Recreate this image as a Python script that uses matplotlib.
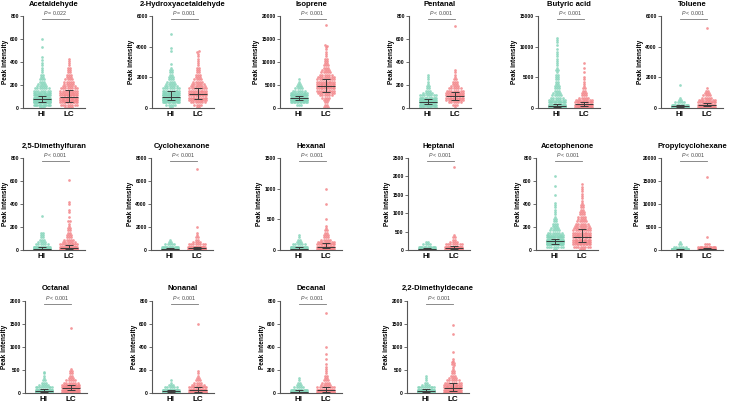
import numpy as np
import matplotlib.pyplot as plt

plt.rcParams['font.family'] = ['Liberation Sans', 'DejaVu Sans']
plt.rcParams['mathtext.fontset'] = 'custom'
plt.rcParams['mathtext.it'] = 'Liberation Sans:italic'
plt.rcParams['mathtext.rm'] = 'Liberation Sans'

# ---- data (values in peak intensity) ----
titles = ["Acetaldehyde", "2-Hydroxyacetaldehyde", "Isoprene", "Pentanal", "Butyric acid", "Toluene",
          "2,5-Dimethylfuran", "Cyclohexanone", "Hexanal", "Heptanal", "Acetophenone", "Propylcyclohexane",
          "Octanal", "Nonanal", "Decanal", "2,2-Dimethyldecane"]
ymax = [800, 6000, 20000, 800, 15000, 6000, 800, 8000, 1500, 2500, 800, 20000, 2000, 800, 800, 2000]
ystep = [200, 2000, 5000, 200, 5000, 2000, 200, 2000, 500, 500, 200, 5000, 500, 200, 200, 500]
pvals = ["= 0.022", "= 0.001"] + ["< 0.001"] * 14
groups = ["HI", "LC"]

# point counts per level (level k = (k + 0.5) * ymax / 40), plus single high values
hi_counts = [
    [3, 14, 26, 30, 22, 16, 11, 8, 7, 5, 4, 3, 3, 2, 2, 1, 1, 1, 1, 1],
    [2, 5, 14, 24, 26, 20, 14, 10, 8, 6, 5, 4, 3, 3, 2, 2, 2, 1],
    [0, 3, 12, 28, 30, 18, 10, 6, 4, 3, 2, 1, 1],
    [8, 22, 28, 24, 14, 8, 5, 3, 2, 2, 1, 1, 1, 1, 1],
    [30, 26, 14, 8, 6, 5, 4, 3, 3, 3, 2, 2, 2, 2, 2, 1, 2, 1, 1, 1, 1, 1, 1, 1, 1, 1, 0, 1, 1, 1, 1],
    [40, 14, 5, 2, 1],
    [60, 18, 6, 4, 3, 2, 2, 2],
    [60, 15, 5, 2, 1],
    [55, 18, 6, 3, 2, 1, 1],
    [60, 14, 4, 2],
    [2, 8, 22, 30, 26, 16, 10, 7, 5, 4, 3, 3, 2, 2, 1, 1, 1, 1, 1, 1, 1],
    [70, 6, 2, 1],
    [35, 25, 10, 5, 3, 2, 1, 1, 1],
    [50, 20, 6, 3, 1, 1],
    [55, 15, 5, 3, 2, 1, 1],
    [35, 28, 10, 4, 2, 1, 1, 1],
]
lc_counts = [
    [4, 8, 12, 14, 14, 12, 10, 9, 8, 6, 5, 5, 4, 3, 3, 2, 2, 2, 1, 1, 1, 1],
    [2, 4, 7, 10, 11, 12, 11, 10, 9, 7, 6, 5, 4, 3, 3, 2, 2, 2, 1, 1, 1, 1, 1, 1, 1],
    [3, 2, 2, 3, 4, 6, 8, 10, 11, 12, 11, 10, 9, 8, 6, 5, 4, 3, 3, 2, 2, 2, 1, 1, 1, 1, 1, 1],
    [1, 3, 6, 9, 12, 12, 10, 8, 6, 4, 3, 3, 2, 1, 1, 1, 1],
    [14, 22, 14, 8, 5, 3, 3, 2, 2, 1, 1, 1, 1, 1, 0, 1, 0, 1, 0, 1],
    [20, 18, 12, 8, 5, 4, 3, 2, 1],
    [40, 20, 10, 6, 5, 3, 3, 2, 2, 2, 1, 1, 1],
    [45, 20, 8, 4, 2, 2, 1, 1],
    [25, 20, 12, 8, 5, 3, 3, 2, 2, 1, 1],
    [40, 22, 8, 4, 2, 2, 1],
    [3, 8, 12, 14, 14, 13, 11, 10, 9, 8, 7, 6, 5, 4, 4, 3, 3, 2, 2, 2, 1, 1, 1, 1, 1, 1, 1, 1, 1],
    [55, 14, 3],
    [15, 22, 18, 12, 7, 5, 3, 2, 2, 2, 1],
    [30, 22, 12, 6, 4, 3, 2, 1, 1, 1],
    [38, 18, 9, 5, 4, 3, 2, 2, 1, 1, 1, 1, 1],
    [18, 20, 14, 10, 8, 6, 4, 3, 2, 2, 1, 1, 1, 1],
]
hi_extra = [[420, 440, 530, 600], [2900, 3700, 3900, 4800], [], [], [], [1500], [300], [], [], [], [480, 560, 640],
            [], [460], [], [], []]
lc_extra = [[], [3700], [13500, 18000], [710], [], [5200], [250, 290, 330, 350, 400, 420, 610], [2000, 7000],
            [500, 750, 990], [2250], [], [2800, 15800], [1420], [600], [300, 340, 400, 700],
            [600, 650, 700, 750, 900, 1280, 1480]]
# (Q1, median, Q3)
hi_stats = [(50, 76, 104), (540, 690, 1125), (1650, 2080, 2670), (35, 55, 80), (150, 350, 700), (50, 100, 180),
            (5, 10, 25), (40, 80, 150), (8, 20, 45), (10, 25, 50), (55, 75, 100), (50, 100, 200),
            (25, 50, 90), (5, 15, 25), (3, 10, 25), (25, 50, 80)]
lc_stats = [(55, 98, 157), (585, 910, 1300), (3380, 4830, 6350), (70, 104, 135), (350, 600, 1000), (100, 200, 350),
            (8, 20, 45), (70, 160, 300), (25, 55, 110), (25, 60, 110), (70, 110, 180), (100, 220, 450),
            (60, 110, 180), (12, 30, 55), (8, 22, 50), (50, 110, 210)]

colors = ["#86d5bb", "#f3868a"]

# ---- layout (pixels) ----
W, H = 729, 403
row_top = [16, 158, 301]
col_x = [[23, 152, 280, 409, 538, 661], [23, 151, 280, 408, 536, 661], [25, 152, 280, 407]]
AW, AH = 62, 92


def expand(counts, extra, top):
    step = top / 40
    vals = np.repeat((np.arange(len(counts)) + 0.5) * step, counts)
    return np.concatenate([vals, np.asarray(extra, float)])


def swarm_x(vals, center, top):
    rows = np.floor(vals / (top / 40)).astype(int)
    xs = np.full(len(vals), float(center))
    for r in np.unique(rows):
        idx = np.where(rows == r)[0]
        n = len(idx)
        dx = min(0.085, 0.62 / max(n - 1, 1))
        xs[idx] = center + (np.arange(n) - (n - 1) / 2) * dx
    return xs


fig = plt.figure(figsize=(W / 100, H / 100), dpi=100)
k = 0
for r, xs_row in enumerate(col_x):
    for x0 in xs_row:
        ax = fig.add_axes([x0 / W, 1 - (row_top[r] + AH) / H, AW / W, AH / H])
        top = ymax[k]
        for g, (cnt, ext, st) in enumerate([(hi_counts[k], hi_extra[k], hi_stats[k]),
                                            (lc_counts[k], lc_extra[k], lc_stats[k])]):
            c = g + 1
            v = expand(cnt, ext, top)
            ax.scatter(swarm_x(v, c, top), v, s=3.8, color=colors[g], alpha=0.85, linewidths=0,
                       clip_on=False, zorder=2)
            q1, med, q3 = st
            kw = dict(color="#3a3a3a", lw=0.7, zorder=3, solid_capstyle="butt")
            ax.plot([c - 0.33, c + 0.33], [med, med], **kw)
            ax.plot([c, c], [q1, q3], **kw)
            ax.plot([c - 0.14, c + 0.14], [q1, q1], **kw)
            ax.plot([c - 0.14, c + 0.14], [q3, q3], **kw)

        ax.set_xlim(0.30, 2.60)
        ax.set_ylim(0, top)
        ax.set_yticks(np.arange(0, top + 1, ystep[k]))
        ax.set_xticks([1, 2])
        ax.set_xticklabels(groups, fontsize=5.8, fontweight="bold")
        for lab in ax.get_yticklabels():
            lab.set_fontweight("bold")
        ax.tick_params(axis="y", labelsize=3.6, length=2, width=0.6, pad=1, color="#555555")
        ax.tick_params(axis="x", length=0, pad=2.5)
        for s in ["top", "right"]:
            ax.spines[s].set_visible(False)
        for s in ["left", "bottom"]:
            ax.spines[s].set_color("#555555")
            ax.spines[s].set_linewidth(0.8)
        ax.set_ylabel("Peak intensity", fontsize=4.7, fontweight="bold", labelpad=1.2)

        # significance bar
        ax.plot([1, 2], [top * 0.965, top * 0.965], color="#777777", lw=0.6, clip_on=False)
        ax.text(1.5, top * 0.985, r"$\it{P}$ " + pvals[k], ha="center", va="bottom", fontsize=3.8,
                color="#444444")
        ax.text(0.5, 1 + 12 / AH, titles[k], transform=ax.transAxes, ha="center", va="center",
                fontsize=5.5, fontweight="bold")
        k += 1

fig.savefig("out.png", dpi=100)
